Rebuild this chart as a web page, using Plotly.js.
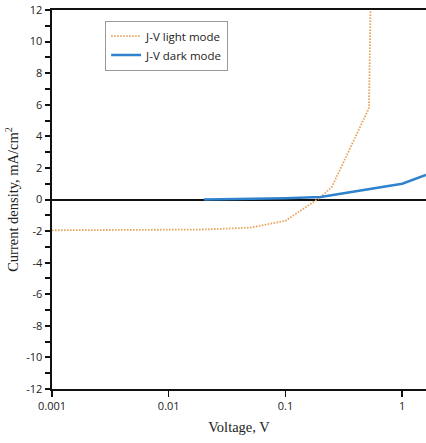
<!DOCTYPE html>
<html>
<head>
<meta charset="utf-8">
<script src="https://cdn.plot.ly/plotly-3.0.1.min.js"></script>
<style>html,body{margin:0;padding:0;background:#fff}#chart{width:426px;height:443px}</style>
</head>
<body>
<div id="chart"></div>
<script>
// Data
var lightV = [0.001, 0.01, 0.02, 0.05, 0.1, 0.2, 0.25, 0.52, 0.54];
var lightJ = [-1.95, -1.93, -1.9, -1.78, -1.35, 0.15, 0.8, 5.8, 14];
var darkV = [0.02, 0.05, 0.1, 0.2, 1.0, 1.6];
var darkJ = [0.0, 0.03, 0.08, 0.16, 1.0, 1.55];
var yTickVals = [-12,-11,-10,-9,-8,-7,-6,-5,-4,-3,-2,-1,0,1,2,3,4,5,6,7,8,9,10,11,12];
var yTickText = ['-12','','-10','','-8','','-6','','-4','','-2','','0','','2','','4','','6','','8','','10','','12'];
var yMinorVals = [-11,-9,-7,-5,-3,-1,1,3,5,7,9,11];
var xTickVals = [0.001, 0.01, 0.1, 1];
var xTickText = ['0.001', '0.01', '0.1', '1'];
var xInnerVals = [0.01, 0.1, 1];

var traces = [
  {x: lightV, y: lightJ, type: 'scatter', mode: 'lines', name: 'J-V light mode',
   line: {color: '#E9A55E', width: 1.8, dash: '1.6px,1.4px'}},
  {x: darkV, y: darkJ, type: 'scatter', mode: 'lines', name: 'J-V dark mode',
   line: {color: '#2F82CB', width: 2.5}}
];

var tickFont = {family: 'Open Sans, Liberation Sans, sans-serif', size: 11, color: '#222'};
var titleFont = {family: 'Liberation Serif, Times New Roman, serif', size: 14.5, color: '#222'};
var layout = {
  width: 426, height: 443,
  margin: {l: 52, r: 0, t: 10, b: 54},
  paper_bgcolor: '#fff', plot_bgcolor: '#fff',
  showlegend: true,
  legend: {x: 0.142, y: 0.972, xanchor: 'left', yanchor: 'top',
    bgcolor: '#fff', bordercolor: '#999', borderwidth: 1,
    font: {family: 'Open Sans, Liberation Sans, sans-serif', size: 11.5, color: '#222'},
    tracegroupgap: 2},
  xaxis: {type: 'log', range: [-3, 0.204], tickvals: xTickVals, ticktext: xTickText,
    ticks: 'outside', ticklen: 6, tickwidth: 1.5, tickcolor: '#111',
    showline: true, linecolor: '#111', linewidth: 2, mirror: true,
    showgrid: false, zeroline: false, tickfont: tickFont,
    title: {text: 'Voltage, V', font: titleFont, standoff: 10}},
  xaxis2: {type: 'log', range: [-3, 0.204], overlaying: 'x', anchor: 'y', side: 'bottom',
    tickvals: xInnerVals, ticks: 'inside', ticklen: 6, tickwidth: 1.5, tickcolor: '#111',
    showticklabels: false, showline: false, showgrid: false, zeroline: false},
  yaxis: {range: [-12, 12], tickvals: yTickVals, ticktext: yTickText,
    ticks: 'outside', ticklen: 5, tickwidth: 2, tickcolor: '#111',
    showline: true, linecolor: '#111', linewidth: 2.5,
    showgrid: false, zeroline: true, zerolinecolor: '#111', zerolinewidth: 2,
    tickfont: tickFont,
    title: {text: 'Current density, mA/cm<sup>2</sup>', font: titleFont, standoff: 4}},
  yaxis2: {range: [-12, 12], overlaying: 'y', anchor: 'x', side: 'left',
    tickvals: yMinorVals, ticks: 'inside', ticklen: 4, tickwidth: 2, tickcolor: '#111',
    showticklabels: false, showline: false, showgrid: false, zeroline: false}
};

Plotly.newPlot('chart', traces, layout, {displayModeBar: false, staticPlot: true});
</script>
</body>
</html>
